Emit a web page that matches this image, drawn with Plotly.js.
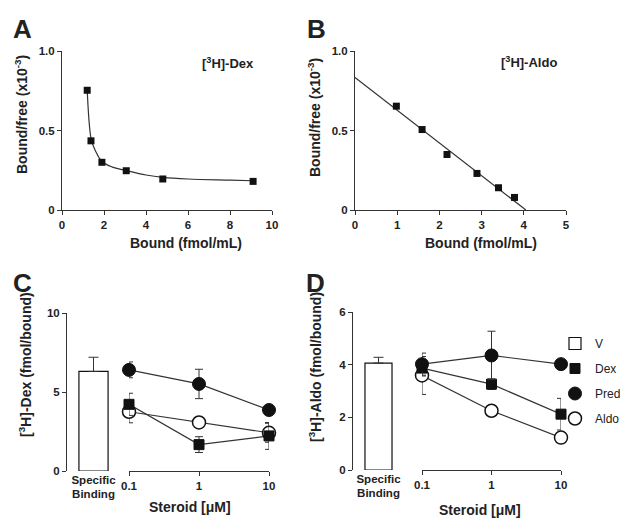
<!DOCTYPE html>
<html>
<head>
<meta charset="utf-8">
<script src="https://cdn.plot.ly/plotly-3.0.1.min.js"></script>
<style>html,body{margin:0;padding:0;background:#fff;}#chart{width:623px;height:521px;}</style>
</head>
<body>
<div id="chart"></div>
<script>
// ---------- Data ----------
// Panel A: [3H]-Dex Scatchard
const dexBound = [1.2, 1.38, 1.9, 3.06, 4.8, 9.1];
const dexBF = [0.753, 0.435, 0.30, 0.247, 0.195, 0.18];
const dexFitX = [1.2, 1.3, 1.4, 1.6, 1.9, 2.4, 3.0, 4.0, 4.8, 6.0, 8.0, 9.1];
const dexFitY = [0.753, 0.54, 0.44, 0.37, 0.305, 0.27, 0.25, 0.22, 0.205, 0.195, 0.188, 0.184];
// Panel B: [3H]-Aldo Scatchard
const aldoBound = [0.98, 1.59, 2.18, 2.89, 3.40, 3.78];
const aldoBF = [0.653, 0.506, 0.349, 0.230, 0.140, 0.079];
const aldoFitX = [0, 4.05];
const aldoFitY = [0.833, 0];
// Panels C and D: competition
const conc = [0.1, 1, 10];
const concLabels = ["0.1", "1", "10"];
const barLabel = ["Specific<br>Binding"];
// C: [3H]-Dex
const cV = [6.3], cVErr = [0.9];
const cDex = [4.22, 1.67, 2.22], cDexErr = [0.7, 0.5, 0.85];
const cPred = [6.40, 5.51, 3.86], cPredErr = [0.5, 0.93, 0.12];
const cAldo = [3.75, 3.07, 2.42], cAldoErr = [0.7, 0.1, 0.6];
// D: [3H]-Aldo
const dV = [4.06], dVErr = [0.22];
const dDex = [3.87, 3.26, 2.12], dDexErr = [0.3, 0.2, 0.6];
const dPred = [4.02, 4.35, 4.02], dPredErr = [0.42, 0.92, 0.08];
const dAldo = [3.59, 2.25, 1.23], dAldoErr = [0.72, 0.14, 0];

// ---------- Helpers ----------
const W = 623, H = 521;
const X = p => p / W;
const Y = p => 1 - p / H;
const FONT = "Liberation Sans, Arial, sans-serif";
const INK = "#222";
const LINE = "#333";

function err(arr) { return {type: "data", array: arr, color: LINE, thickness: 1, width: 4}; }

const circFilled = {symbol: "circle", size: 13, color: "#111", line: {color: "#111", width: 1}};
const circOpen = {symbol: "circle", size: 13, color: "#fff", line: {color: "#111", width: 1.5}};
const sqFilled = {symbol: "square", size: 10, color: "#111", line: {color: "#111", width: 1}};

const traces = [];
// A
traces.push({x: dexFitX, y: dexFitY, mode: "lines", line: {color: LINE, width: 1.2, shape: "spline", smoothing: 1.0}, xaxis: "x", yaxis: "y", showlegend: false, hoverinfo: "skip"});
traces.push({x: dexBound, y: dexBF, mode: "markers", marker: {symbol: "square", size: 7, color: "#111"}, xaxis: "x", yaxis: "y", showlegend: false, cliponaxis: false});
// B
traces.push({x: aldoFitX, y: aldoFitY, mode: "lines", line: {color: LINE, width: 1.2}, xaxis: "x2", yaxis: "y2", showlegend: false, hoverinfo: "skip"});
traces.push({x: aldoBound, y: aldoBF, mode: "markers", marker: {symbol: "square", size: 7, color: "#111"}, xaxis: "x2", yaxis: "y2", showlegend: false, cliponaxis: false});

// C bars
traces.push({type: "bar", x: barLabel, y: cV, width: 0.55, marker: {color: "#fff", line: {color: "#111", width: 1.2}},
  error_y: {type: "data", symmetric: false, array: cVErr, arrayminus: [0], color: LINE, thickness: 1, width: 5},
  xaxis: "x3", yaxis: "y3", showlegend: false, name: "V"});
// D bars (legend entry V)
traces.push({type: "bar", x: barLabel, y: dV, width: 0.53, marker: {color: "#fff", line: {color: "#111", width: 1.2}},
  error_y: {type: "data", symmetric: false, array: dVErr, arrayminus: [0], color: LINE, thickness: 1, width: 5},
  xaxis: "x5", yaxis: "y4", showlegend: true, name: "V", legendgroup: "v", legendrank: 1});

// C & D lines first
[[cPred, "x4", "y3"], [cAldo, "x4", "y3"], [cDex, "x4", "y3"], [dPred, "x6", "y4"], [dAldo, "x6", "y4"], [dDex, "x6", "y4"]].forEach(s => {
  traces.push({x: conc, y: s[0], mode: "lines", line: {color: LINE, width: 1.2}, xaxis: s[1], yaxis: s[2], showlegend: false, hoverinfo: "skip"});
});
// C markers
traces.push({x: conc, y: cAldo, mode: "markers", marker: circOpen, error_y: err(cAldoErr), xaxis: "x4", yaxis: "y3", showlegend: false, cliponaxis: false, name: "Aldo"});
traces.push({x: conc, y: cPred, mode: "markers", marker: circFilled, error_y: err(cPredErr), xaxis: "x4", yaxis: "y3", showlegend: false, cliponaxis: false, name: "Pred"});
traces.push({x: conc, y: cDex, mode: "markers", marker: sqFilled, error_y: err(cDexErr), xaxis: "x4", yaxis: "y3", showlegend: false, cliponaxis: false, name: "Dex"});
// D markers
traces.push({x: conc, y: dAldo, mode: "markers", marker: circOpen, error_y: err(dAldoErr), xaxis: "x6", yaxis: "y4", cliponaxis: false, name: "Aldo", legendgroup: "aldo", legendrank: 4});
traces.push({x: conc, y: dDex, mode: "markers", marker: sqFilled, error_y: err(dDexErr), xaxis: "x6", yaxis: "y4", cliponaxis: false, name: "Dex", legendgroup: "dex", legendrank: 2});
traces.push({x: conc, y: dPred, mode: "markers", marker: circFilled, error_y: err(dPredErr), xaxis: "x6", yaxis: "y4", cliponaxis: false, name: "Pred", legendgroup: "pred", legendrank: 3});

const tickfont = {family: FONT, size: 11.5, color: INK, weight: "bold"};
function linAxis(extra) {
  return Object.assign({showline: true, linecolor: LINE, linewidth: 1, ticks: "outside", ticklen: 4, tickcolor: LINE,
    showgrid: false, zeroline: false, tickfont: tickfont, fixedrange: true}, extra);
}

function ann(text, x, y, size, extra) {
  return Object.assign({text: text, x: X(x), y: Y(y), xref: "paper", yref: "paper", showarrow: false,
    xanchor: "center", yanchor: "middle", font: {family: FONT, size: size, color: INK, weight: "bold"}}, extra || {});
}

const layout = {
  width: W, height: H,
  margin: {l: 0, r: 0, t: 0, b: 0, autoexpand: false},
  paper_bgcolor: "#fff", plot_bgcolor: "rgba(0,0,0,0)",
  font: {family: FONT, color: INK},
  showlegend: true,
  legend: {x: X(555), y: Y(329), xanchor: "left", yanchor: "top", font: {family: FONT, size: 12, color: INK},
    tracegroupgap: 6, bgcolor: "rgba(0,0,0,0)", traceorder: "grouped"},
  bargap: 0,
  xaxis: linAxis({domain: [X(62), X(272)], range: [0, 10], tickvals: [0, 2, 4, 6, 8, 10], anchor: "y"}),
  yaxis: linAxis({domain: [Y(210), Y(51)], range: [0, 1], tickvals: [0, 0.5, 1], ticktext: ["0", "0.5", "1.0"], anchor: "x"}),
  xaxis2: linAxis({domain: [X(355), X(566)], range: [0, 5], tickvals: [0, 1, 2, 3, 4, 5], anchor: "y2"}),
  yaxis2: linAxis({domain: [Y(210), Y(51)], range: [0, 1], tickvals: [0, 0.5, 1], ticktext: ["0", "0.5", "1.0"], anchor: "x2"}),
  xaxis3: {domain: [X(67), X(120)], type: "category", range: [-0.5, 0.5], showline: false, ticks: "", showgrid: false, zeroline: false, tickfont: tickfont, anchor: "y3", fixedrange: true},
  yaxis3: linAxis({domain: [Y(471), Y(313)], range: [0, 10], tickvals: [0, 5, 10], anchor: "x3"}),
  xaxis4: linAxis({domain: [X(129), X(269)], type: "log", range: [-1, 1], tickvals: conc, ticktext: concLabels, anchor: "y3"}),
  xaxis5: {domain: [X(353), X(404)], type: "category", range: [-0.5, 0.5], showline: false, ticks: "", showgrid: false, zeroline: false, tickfont: tickfont, anchor: "y4", fixedrange: true},
  yaxis4: linAxis({domain: [Y(470), Y(312)], range: [0, 6], tickvals: [0, 2, 4, 6], anchor: "x5"}),
  xaxis6: linAxis({domain: [X(422), X(561)], type: "log", range: [-1, 1], tickvals: conc, ticktext: concLabels, anchor: "y4"}),
  annotations: [
    ann("A", 22, 29, 26), ann("B", 316, 29, 26), ann("C", 22, 283, 26), ann("D", 315, 283, 26),
    ann("[<sup>3</sup>H]-Dex", 228, 63, 13), ann("[<sup>3</sup>H]-Aldo", 529, 62, 13),
    ann("Bound (fmol/mL)", 186, 243, 14), ann("Bound (fmol/mL)", 481, 243, 14),
    ann("Bound/free (x10<sup>-3</sup>)", 21, 115, 14, {textangle: -90}),
    ann("Bound/free (x10<sup>-3</sup>)", 314, 118, 14, {textangle: -90}),
    ann("[<sup>3</sup>H]-Dex (fmol/bound)", 25, 365, 14, {textangle: -90}),
    ann("[<sup>3</sup>H]-Aldo (fmol/bound)", 315, 367, 14, {textangle: -90}),
    ann("Steroid [μM]", 190, 507, 14), ann("Steroid [μM]", 480, 510, 14)
  ]
};

Plotly.newPlot("chart", traces, layout, {staticPlot: true, displayModeBar: false});
</script>
</body>
</html>
